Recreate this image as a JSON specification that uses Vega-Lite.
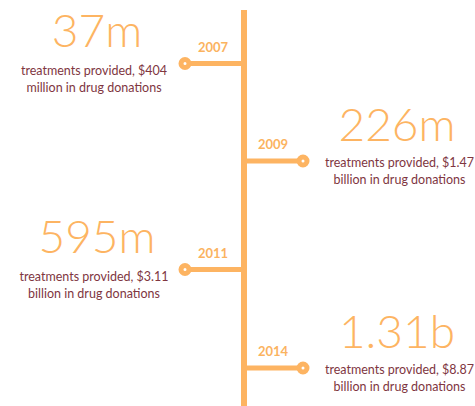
{
  "$schema": "https://vega.github.io/schema/vega-lite/v6.json",
  "width": 475,
  "height": 406,
  "autosize": {"type": "none"},
  "padding": 0,
  "background": "white",
  "config": {"view": {"stroke": null}},
  "data": {"values": [
    {"year": 2007, "side": "left", "big": "37m", "desc": "treatments provided, $404\nmillion in drug donations"},
    {"year": 2009, "side": "right", "big": "226m", "desc": "treatments provided, $1.47\nbillion in drug donations"},
    {"year": 2011, "side": "left", "big": "595m", "desc": "treatments provided, $3.11\nbillion in drug donations"},
    {"year": 2014, "side": "right", "big": "1.31b", "desc": "treatments provided, $8.87\nbillion in drug donations"}
  ]},
  "encoding": {
    "y": {"field": "year", "type": "quantitative", "axis": null,
          "scale": {"domain": [2007, 2009, 2011, 2014], "range": [63.5, 161, 269.5, 368], "zero": false, "nice": false}},
    "x": {"field": "side", "type": "nominal", "axis": null,
          "scale": {"type": "point", "domain": ["left", "center", "right"], "range": [185, 303], "padding": 0}}
  },
  "layer": [
    {
      "mark": {"type": "rule", "color": "#fdb462", "strokeWidth": 6, "clip": true},
      "encoding": {
        "x": {"datum": "center", "type": "nominal"},
        "y": {"datum": 2005.9, "type": "quantitative"},
        "y2": {"datum": 2015.3}
      }
    },
    {
      "mark": {"type": "rule", "color": "#fdb462", "strokeWidth": 5},
      "encoding": {"x2": {"datum": "center"}}
    },
    {
      "mark": {"type": "point", "shape": "circle", "filled": true, "fill": "white", "stroke": "#fdb462", "strokeWidth": 5, "size": 64, "opacity": 1},
      "encoding": {}
    },
    {
      "transform": [{"filter": "datum.side === 'left'"}],
      "layer": [
        {"mark": {"type": "text", "font": "Lato", "fontWeight": "bold", "fontSize": 13, "color": "#fbb35f", "align": "center", "baseline": "alphabetic", "dx": 28, "dy": -12},
         "encoding": {"text": {"field": "year", "type": "nominal"}}},
        {"mark": {"type": "text", "font": "Lato", "fontWeight": 300, "fontSize": 46, "color": "#fdb462", "align": "center", "baseline": "alphabetic", "dx": -88, "dy": -17},
         "encoding": {"text": {"field": "big", "type": "nominal"}}},
        {"mark": {"type": "text", "font": "Lato", "fontSize": 12.5, "color": "#80363f", "align": "center", "baseline": "alphabetic", "lineBreak": "\n", "lineHeight": 17, "dx": -91, "dy": 11.5},
         "encoding": {"text": {"field": "desc", "type": "nominal"}}}
      ]
    },
    {
      "transform": [{"filter": "datum.side === 'right'"}],
      "layer": [
        {"mark": {"type": "text", "font": "Lato", "fontWeight": "bold", "fontSize": 13, "color": "#fbb35f", "align": "center", "baseline": "alphabetic", "dx": -30, "dy": -12},
         "encoding": {"text": {"field": "year", "type": "nominal"}}},
        {"mark": {"type": "text", "font": "Lato", "fontWeight": 300, "fontSize": 46, "color": "#fdb462", "align": "center", "baseline": "alphabetic", "dx": 94, "dy": -20},
         "encoding": {"text": {"field": "big", "type": "nominal"}}},
        {"mark": {"type": "text", "font": "Lato", "fontSize": 12.5, "color": "#80363f", "align": "center", "baseline": "alphabetic", "lineBreak": "\n", "lineHeight": 17, "dx": 96.5, "dy": 5.5},
         "encoding": {"text": {"field": "desc", "type": "nominal"}}}
      ]
    }
  ]
}
